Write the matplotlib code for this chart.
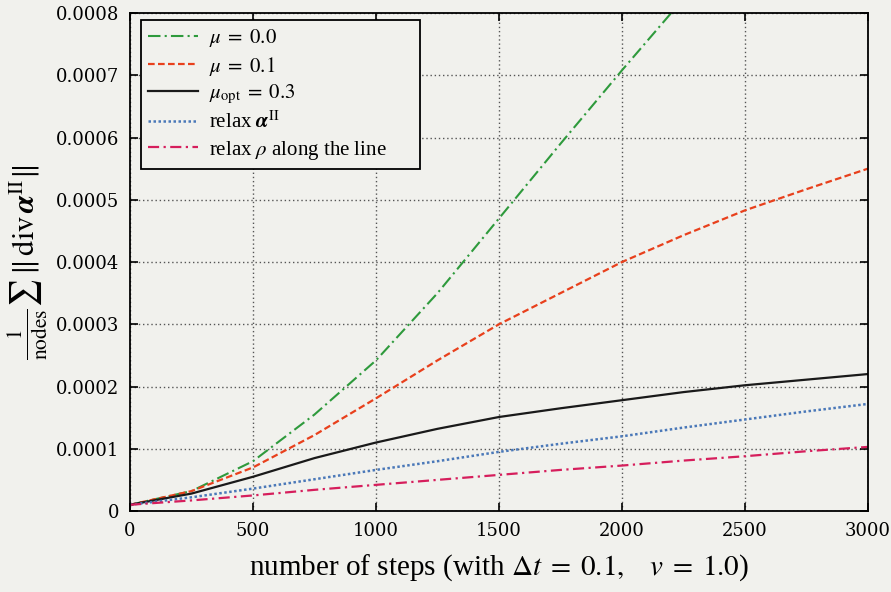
import matplotlib
matplotlib.use("Agg")
import matplotlib.pyplot as plt

# values
steps_mu0 = [0, 250, 500, 750, 1000, 1250, 1500, 1750, 2000, 2200, 2300]
mu0 = [1e-5, 3.2e-5, 8e-5, 1.55e-4, 2.42e-4, 3.5e-4, 4.7e-4, 5.9e-4, 7.08e-4, 8.0e-4, 8.45e-4]

steps = [0, 250, 500, 750, 1000, 1250, 1500, 1750, 2000, 2250, 2500, 2750, 3000]
mu01 = [1e-5, 3.2e-5, 7e-5, 1.22e-4, 1.81e-4, 2.42e-4, 3.0e-4, 3.5e-4, 4.0e-4, 4.43e-4, 4.83e-4, 5.17e-4, 5.5e-4]
mu_opt = [1e-5, 2.8e-5, 5.5e-5, 8.5e-5, 1.1e-4, 1.32e-4, 1.51e-4, 1.65e-4, 1.78e-4, 1.91e-4, 2.02e-4, 2.11e-4, 2.2e-4]
relax_alpha = [1e-5, 2.2e-5, 3.6e-5, 5.1e-5, 6.6e-5, 8.0e-5, 9.5e-5, 1.08e-4, 1.2e-4, 1.34e-4, 1.47e-4, 1.6e-4, 1.72e-4]
relax_rho = [1e-5, 1.7e-5, 2.5e-5, 3.4e-5, 4.2e-5, 5.0e-5, 5.8e-5, 6.6e-5, 7.3e-5, 8.1e-5, 8.8e-5, 9.6e-5, 1.03e-4]

xticks = [0, 500, 1000, 1500, 2000, 2500, 3000]
yticks = [0, 0.0001, 0.0002, 0.0003, 0.0004, 0.0005, 0.0006, 0.0007, 0.0008]
ytick_labels = ["0", "0.0001", "0.0002", "0.0003", "0.0004", "0.0005", "0.0006", "0.0007", "0.0008"]

plt.rcParams['font.family'] = ['Liberation Serif', 'DejaVu Serif']
plt.rcParams['mathtext.fontset'] = 'stix'

bg = '#f1f1ed'
fig = plt.figure(figsize=(8.91, 5.92), dpi=100, facecolor=bg)
ax = fig.add_axes([130 / 891, 1 - 511 / 592, 738 / 891, 498 / 592])
ax.set_facecolor(bg)

ax.plot(steps_mu0, mu0, color='#2e9a3c', ls=(0, (6, 2, 1, 2)), lw=1.5, label=r'$\mu\;=\;0.0$')
ax.plot(steps, mu01, color='#e8401c', ls=(0, (3, 1.5)), lw=1.6, label=r'$\mu\;=\;0.1$')
ax.plot(steps, mu_opt, color='#1a1a1a', ls='-', lw=1.6, label=r'$\mu_{\mathrm{opt}}\;=\;0.3$')
ax.plot(steps, relax_alpha, color='#4a78b8', ls=(0, (1, 1)), lw=1.8, label=r'relax $\boldsymbol{\alpha}^{\mathrm{II}}$')
ax.plot(steps, relax_rho, color='#d61e5c', ls=(0, (5, 2, 1, 2)), lw=1.6, label=r'relax $\rho$ along the line' + '      ')

ax.set_xlim(0, 3000)
ax.set_ylim(0, 0.0008)
ax.set_xticks(xticks)
ax.set_yticks(yticks)
ax.set_yticklabels(ytick_labels)
ax.tick_params(direction='in', top=True, right=True, length=6, width=1.2, pad=8)
for lab in ax.get_xticklabels() + ax.get_yticklabels():
    lab.set_fontfamily('DejaVu Serif')
    lab.set_fontsize(13)
ax.grid(True, color='#555555', ls=(0, (1, 2)), lw=1.0)
for s in ax.spines.values():
    s.set_linewidth(1.3)

ax.set_xlabel(r'number of steps (with $\Delta t\;=\;0.1,\ \ \ v\;=\;1.0$)', fontsize=21, labelpad=9)
ax.set_ylabel(r'$\frac{1}{\mathrm{nodes}}\sum\,\Vert\,\mathrm{div}\,\boldsymbol{\alpha}^{\mathrm{II}}\Vert$',
              fontsize=22)
ax.yaxis.set_label_coords(-0.108, 0.5)

leg = ax.legend(loc='upper left', bbox_to_anchor=(11 / 738, 1 - 7 / 498), borderaxespad=0,
                fontsize=15, frameon=True, fancybox=False,
                edgecolor='black', facecolor=bg, framealpha=1,
                handlelength=2.4, handletextpad=0.5, labelspacing=0.26, borderpad=0.35)
leg.get_frame().set_linewidth(1.3)

fig.savefig('out.png', dpi=100, facecolor=bg)
